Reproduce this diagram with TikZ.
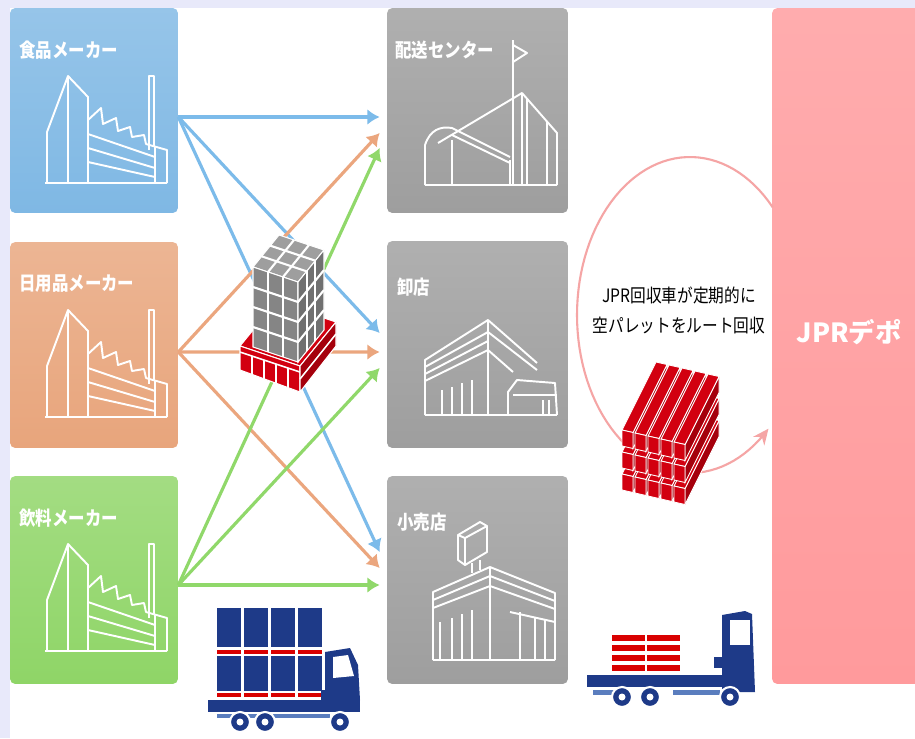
\documentclass[tikz,border=0pt]{standalone}
\usepackage{fontspec}
\usepackage{tikz}
\usetikzlibrary{arrows.meta}
\usetikzlibrary{calc}
\usetikzlibrary{positioning}

\newfontfamily\jp[FakeStretch=0.85]{Noto Sans CJK JP}
\newfontfamily\jpw{Noto Sans CJK JP}

\definecolor{lavender}{RGB}{232,233,250}
\definecolor{mblue}{RGB}{127,184,228}
\definecolor{morange}{RGB}{232,165,124}
\definecolor{mgreen}{RGB}{143,213,103}
\definecolor{shop}{RGB}{158,158,158}
\definecolor{depotpink}{RGB}{255,154,156}
\definecolor{lblue}{RGB}{124,187,234}
\definecolor{lorange}{RGB}{235,166,126}
\definecolor{lgreen}{RGB}{144,216,106}
\definecolor{navy}{RGB}{30,58,136}
\definecolor{steel}{RGB}{90,125,190}
\definecolor{palred}{RGB}{210,0,16}
\definecolor{darkred}{RGB}{165,0,12}
\definecolor{ringpink}{RGB}{245,165,165}

\tikzset{
  panel/.style={rounded corners=3pt, top color=#1!82!white, bottom color=#1, draw=none, inner sep=0pt},
  tag/.style={text=white, font=\jp\bfseries\fontsize{11}{13}\selectfont, anchor=west, inner sep=0pt},
  icon/.style={white, line width=1.1pt, line join=round},
  flow/.style={line width=1.8pt, -{Latex[length=7pt,width=9pt]}},
  slat/.style={draw=white, line width=0.5pt},
}

\begin{document}
\begin{tikzpicture}[x=0.02cm, y=-0.02cm]
  \useasboundingbox (0,0) rectangle (915,738);
  \fill[lavender] (0,0) rectangle (915,738);
  \fill[white] (10,8) rectangle (915,738);

  % makers
  \node[panel=mblue,   minimum width=3.36cm, minimum height=4.1cm]  (food)  at (94,110.5) {};
  \node[panel=morange, minimum width=3.36cm, minimum height=4.12cm] (daily) at (94,345) {};
  \node[panel=mgreen,  minimum width=3.36cm, minimum height=4.16cm] (drink) at (94,580) {};
  \node[tag] (food-t)  at (19,50)  {食品メーカー};
  \node[tag] (daily-t) at (19,284) {日用品メーカー};
  \node[tag] (drink-t) at (19,518) {飲料メーカー};

  % receivers
  \node[panel=shop, minimum width=3.62cm, minimum height=4.1cm]  (dc)     at (477.5,110.5) {};
  \node[panel=shop, minimum width=3.62cm, minimum height=4.14cm] (whole)  at (477.5,344.5) {};
  \node[panel=shop, minimum width=3.62cm, minimum height=4.16cm] (retail) at (477.5,580) {};
  \node[tag] (dc-t)     at (395,50)  {配送センター};
  \node[tag] (whole-t)  at (397,287) {卸店};
  \node[tag] (retail-t) at (397,522) {小売店};

  % depot
  \node[panel=depotpink, minimum width=3cm, minimum height=13.52cm] (depot) at (847,346) {};
  \node[text=white, font=\jpw\bfseries\fontsize{15}{18}\selectfont] (depot-t) at (849,332) {JPRデポ};

  % factory outlines
  \foreach \oy in {0,234,468}{
    \begin{scope}[shift={(0,\oy)}]
      \draw[icon] (45,183) -- (167,183);
      \draw[icon] (47,183) -- (47,132) -- (68,76) -- (88,97) -- (88,183);
      \draw[icon] (68,76) -- (68,183);
      \draw[icon] (88,120) -- (101,108) -- (103,124) -- (116,118) -- (118,131) -- (130,127)
        -- (132,137) -- (144,135) -- (146,144) -- (167,150) -- (167,183);
      \draw[icon] (88,134) -- (155,157) (88,148) -- (155,168) (88,162) -- (155,177);
      \draw[icon] (155,146) -- (155,183);
      \draw[icon] (149,150) -- (149,76) -- (154,76) -- (154,146);
    \end{scope}
  }

  % distribution centre
  \draw[icon] (425,185) -- (557,185);
  \draw[icon] (425,185) -- (425,145) .. controls (430,130) and (440,126) .. (452,128) -- (510,157);
  \draw[icon] (452,135) -- (510,163);
  \draw[icon] (438,143) -- (522,93) -- (557,133) -- (557,185);
  \draw[icon] (452,140) -- (452,185) (510,160) -- (510,185) (522,93) -- (522,185)
    (527,99) -- (527,185) (547,122) -- (547,185);
  \draw[icon] (513,185) -- (513,40);
  \draw[icon] (513,45) -- (527,53) -- (513,62);

  % wholesaler
  \draw[icon] (425,415) -- (557,415);
  \draw[icon] (425,415) -- (425,360) -- (488,320) -- (537,363);
  \draw[icon] (425,367) -- (488,332) -- (537,370);
  \draw[icon] (425,374) -- (488,341);
  \draw[icon] (425,381) -- (488,350) -- (513,372);
  \draw[icon] (488,320) -- (488,415);
  \draw[icon] (442,390) -- (442,415) (452,387) -- (452,415) (462,383) -- (462,415) (472,380) -- (472,415);
  \draw[icon] (508,415) -- (508,392) -- (517,380) -- (555,383) -- (557,415);
  \draw[icon] (513,395) -- (557,395) (543,400) -- (543,415) (549,400) -- (549,415);

  % retail shop
  \draw[icon] (458,535) -- (480,522) -- (487,526) -- (487,552) -- (465,565) -- (458,560) -- cycle;
  \draw[icon] (465,538) -- (487,526) (465,538) -- (465,565) (465,538) -- (458,535);
  \draw[icon] (472,563) -- (472,573) (480,560) -- (480,570);
  \draw[icon] (433,660) -- (555,660);
  \draw[icon] (433,660) -- (433,592) -- (490,567) -- (555,593) -- (555,660);
  \draw[icon] (433,600) -- (490,576) -- (555,601);
  \draw[icon] (433,608) -- (490,586) -- (555,609);
  \draw[icon] (490,567) -- (490,660);
  \draw[icon] (440,622) -- (440,660) (452,618) -- (452,660) (462,614) -- (462,660) (472,610) -- (472,660);
  \draw[icon] (520,612) -- (520,660) (535,617) -- (535,660) (545,620) -- (545,660) (510,612) -- (555,622);

  % deliveries
  \draw[flow, lblue]   ($(food.east)+(0,6.5)$)  -- ($(dc.west)+(-7,6.5)$);
  \draw[flow, lblue]   ($(food.east)+(0,6.5)$)  -- ($(whole.west)+(-7,-11.5)$);
  \draw[flow, lblue]   ($(food.east)+(0,6.5)$)  -- ($(retail.west)+(-7,-28)$);
  \draw[flow, lorange] ($(daily.east)+(0,7)$)   -- ($(dc.west)+(-7,22.5)$);
  \draw[flow, lorange] ($(daily.east)+(0,7)$)   -- ($(whole.west)+(-7,7.5)$);
  \draw[flow, lorange] ($(daily.east)+(0,7)$)   -- ($(retail.west)+(-7,-12)$);
  \draw[flow, lgreen]  ($(drink.east)+(0,5)$)   -- ($(dc.west)+(-7,37.5)$);
  \draw[flow, lgreen]  ($(drink.east)+(0,5)$)   -- ($(whole.west)+(-7,23.5)$);
  \draw[flow, lgreen]  ($(drink.east)+(0,5)$)   -- ($(retail.west)+(-7,5)$);

  % loaded pallet
  \filldraw[fill=palred, draw=white, line width=0.6pt] (300,366) -- (240,346) -- (276,302) -- (336,322) -- cycle;
  \filldraw[fill=palred, draw=white, line width=0.6pt] (300,366) -- (240,346) -- (240,370) -- (300,392) -- cycle;
  \filldraw[fill=darkred, draw=white, line width=0.6pt] (300,366) -- (336,322) -- (336,346) -- (300,392) -- cycle;
  \draw[white, line width=0.9pt] (240,352) -- (300,372);
  \foreach \px in {252,264,276,288}
    \draw[white, line width=1.4pt] (\px,{366-(300-\px)/3+6}) -- (\px,{392-(300-\px)*22/60});
  \draw[white, line width=0.9pt] (300,379) -- (336,334);
  % boxes on it
  \filldraw[fill=black!38, draw=white, line width=0.6pt] (298,282) -- (253,267) -- (279,235) -- (324,250) -- cycle;
  \filldraw[fill=black!48, draw=white, line width=0.6pt] (298,282) -- (253,267) -- (253,347) -- (298,362) -- cycle;
  \filldraw[fill=black!56, draw=white, line width=0.6pt] (298,282) -- (324,250) -- (324,330) -- (298,362) -- cycle;
  \foreach \f in {1/3,2/3}{
    \draw[white, line width=1.2pt] (298-45*\f,282-15*\f) -- (324-45*\f,250-15*\f);
    \draw[white, line width=1.2pt] (298+26*\f,282-32*\f) -- (253+26*\f,267-32*\f);
    \draw[white, line width=1.2pt] (298-45*\f,282-15*\f) -- (298-45*\f,362-15*\f);
    \draw[white, line width=1.2pt] (298+26*\f,282-32*\f) -- (298+26*\f,362-32*\f);
  }
  \foreach \k in {1,2,3}{
    \draw[white, line width=1.2pt] (253,267+20*\k) -- (298,282+20*\k) -- (324,250+20*\k);
  }

  % collection loop
  \draw[ringpink, line width=1.2pt, -{Stealth[length=9pt,width=8pt]}]
    plot[domain=-43:-314, samples=90] ({690+113*cos(\x)}, {315+158*sin(\x)});
  \node[font=\jp\fontsize{10.5}{17}\selectfont, align=center] (note) at (679,310)
    {JPR回収車が定期的に\\空パレットをルート回収};

  % empty pallets
  \foreach \ly in {474,452,430}{
    \foreach \i in {0,...,4}{
      \pgfmathsetmacro\sx{622+13*\i}
      \pgfmathsetmacro\sy{\ly+3*\i}
      \filldraw[slat, fill=darkred] (\sx+11,\sy+2.5) -- ++(34,-68) -- ++(0,16) -- ++(-34,68) -- cycle;
      \filldraw[slat, fill=palred] (\sx,\sy) -- ++(11,2.5) -- ++(34,-68) -- ++(-11,-2.5) -- cycle;
      \filldraw[slat, fill=palred] (\sx,\sy) -- ++(11,2.5) -- ++(0,16) -- ++(-11,-2.5) -- cycle;
    }
  }

  % box truck
  \foreach \cx in {217,244,271,298}{
    \fill[navy] (\cx,608) rectangle ++(24,39);
    \fill[red!85!black] (\cx,649.5) rectangle ++(24,4);
    \fill[navy] (\cx,656) rectangle ++(24,35);
    \fill[red!85!black] (\cx,693) rectangle ++(24,4);
  }
  \fill[navy] (208,700) rectangle (360,712);
  \fill[steel] (217,714) rectangle (330,718);
  \fill[navy] (325,700) -- (325,652) -- (350,648) -- (358,665) -- (360,700) -- cycle;
  \fill[white] (333,657) -- (348,655) -- (354,676) -- (333,678) -- cycle;
  \fill[navy] (321,690) rectangle (326,700);
  \foreach \wx in {240,265,340}{
    \filldraw[fill=navy, draw=white, line width=1.2pt] (\wx,722) circle (0.2cm);
    \fill[white] (\wx,722) circle (0.07cm);
  }

  % flatbed truck
  \fill[navy] (587,675) rectangle (722,687);
  \fill[steel] (593,690) rectangle (615,695);
  \fill[steel] (673,690) rectangle (720,695);
  \foreach \bx in {612,647}{
    \foreach \by in {635,645,655,665}
      \fill[red!85!black] (\bx,\by) rectangle ++(33,6);
  }
  \fill[navy] (722,692) -- (722,615) -- (745,611) -- (752,614) -- (755,692) -- cycle;
  \fill[white] (730,620) rectangle (750,645);
  \fill[navy] (714,657) rectangle (722,668);
  \foreach \wx in {622,650,730}{
    \filldraw[fill=navy, draw=white, line width=1.2pt] (\wx,697) circle (0.2cm);
    \fill[white] (\wx,697) circle (0.07cm);
  }
\end{tikzpicture}
\end{document}
